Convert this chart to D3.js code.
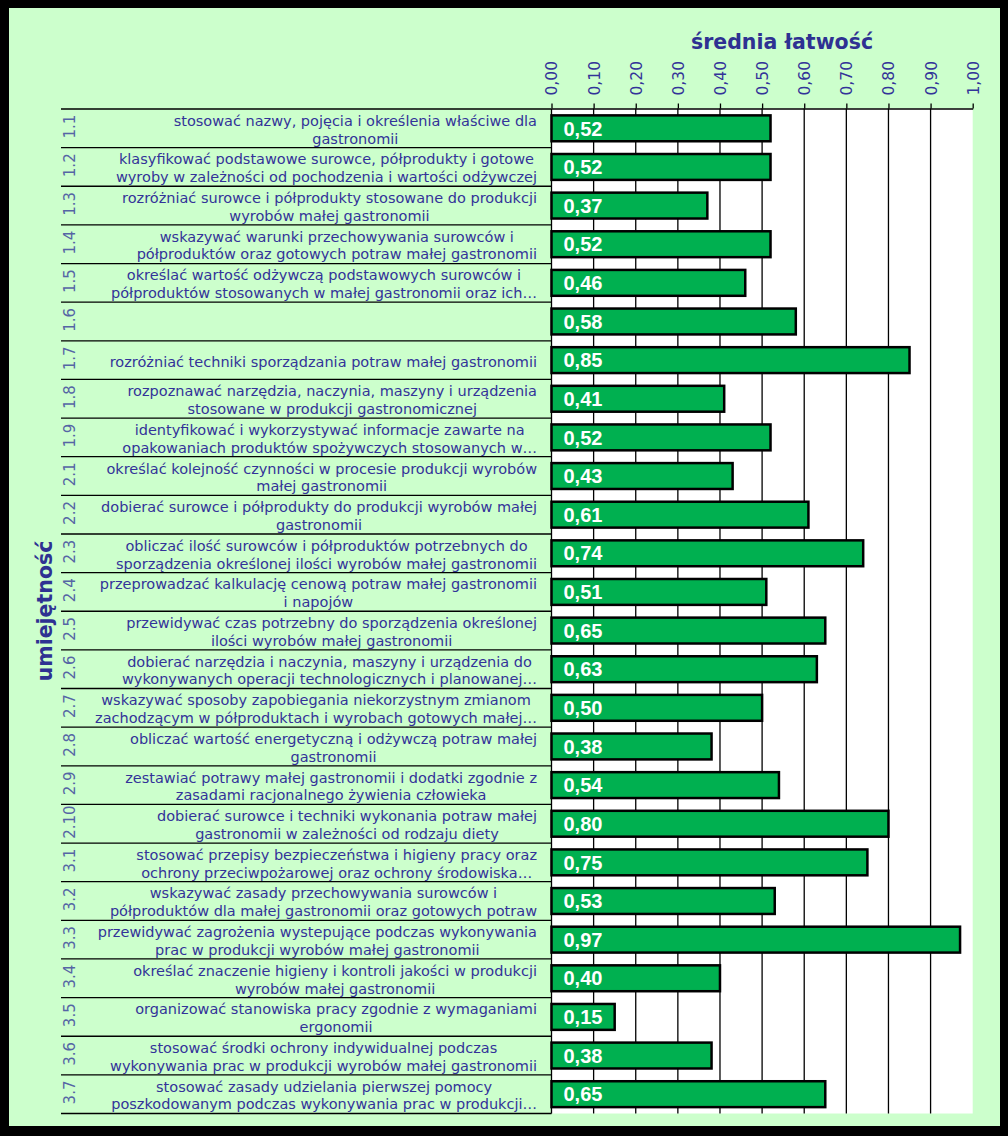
<!DOCTYPE html>
<html><head><meta charset="utf-8">
<script src="https://cdn.jsdelivr.net/npm/d3@7"></script>
<style>html,body{margin:0;padding:0;background:#000;}svg{display:block;}</style>
</head><body>
<svg id="chart" width="1008" height="1136"></svg>
<script>
const codes = ["1.1","1.2","1.3","1.4","1.5","1.6","1.7","1.8","1.9","2.1","2.2","2.3","2.4","2.5","2.6","2.7","2.8","2.9","2.10","3.1","3.2","3.3","3.4","3.5","3.6","3.7"];
const labels = [
 "stosować nazwy, pojęcia i określenia właściwe dla\ngastronomii",
 "klasyfikować podstawowe surowce, półprodukty i gotowe\nwyroby w zależności od pochodzenia i wartości odżywczej",
 "rozróżniać surowce i półprodukty stosowane do produkcji\nwyrobów małej gastronomii",
 "wskazywać warunki przechowywania surowców i\npółproduktów oraz gotowych potraw małej gastronomii",
 "określać wartość odżywczą podstawowych surowców i\npółproduktów stosowanych w małej gastronomii oraz ich…",
 "",
 "rozróżniać techniki sporządzania potraw małej gastronomii",
 "rozpoznawać narzędzia, naczynia, maszyny i urządzenia\nstosowane w produkcji gastronomicznej",
 "identyfikować i wykorzystywać informacje zawarte na\nopakowaniach produktów spożywczych stosowanych w…",
 "określać kolejność czynności w procesie produkcji wyrobów\nmałej gastronomii",
 "dobierać surowce i półprodukty do produkcji wyrobów małej\ngastronomii",
 "obliczać ilość surowców i półproduktów potrzebnych do\nsporządzenia określonej ilości wyrobów małej gastronomii",
 "przeprowadzać kalkulację cenową potraw małej gastronomii\ni napojów",
 "przewidywać czas potrzebny do sporządzenia określonej\nilości wyrobów małej gastronomii",
 "dobierać narzędzia i naczynia, maszyny i urządzenia do\nwykonywanych operacji technologicznych i planowanej…",
 "wskazywać sposoby zapobiegania niekorzystnym zmianom\nzachodzącym w półproduktach i wyrobach gotowych małej…",
 "obliczać wartość energetyczną i odżywczą potraw małej\ngastronomii",
 "zestawiać potrawy małej gastronomii i dodatki zgodnie z\nzasadami racjonalnego żywienia człowieka",
 "dobierać surowce i techniki wykonania potraw małej\ngastronomii w zależności od rodzaju diety",
 "stosować przepisy bezpieczeństwa i higieny pracy oraz\nochrony przeciwpożarowej oraz ochrony środowiska…",
 "wskazywać zasady przechowywania surowców i\npółproduktów dla małej gastronomii oraz gotowych potraw",
 "przewidywać zagrożenia wystepujące podczas wykonywania\nprac w produkcji wyrobów małej gastronomii",
 "określać znaczenie higieny i kontroli jakości w produkcji\nwyrobów małej gastronomii",
 "organizować stanowiska pracy zgodnie z wymaganiami\nergonomii",
 "stosować środki ochrony indywidualnej podczas\nwykonywania prac w produkcji wyrobów małej gastronomii",
 "stosować zasady udzielania pierwszej pomocy\nposzkodowanym podczas wykonywania prac w produkcji…"
];
const values = [0.52,0.52,0.37,0.52,0.46,0.58,0.85,0.41,0.52,0.43,0.61,0.74,0.51,0.65,0.63,0.50,0.38,0.54,0.80,0.75,0.53,0.97,0.40,0.15,0.38,0.65];
const xTicks = [0,0.1,0.2,0.3,0.4,0.5,0.6,0.7,0.8,0.9,1.0];
const xTitle = "średnia łatwość";
const yTitle = "umiejętność";

const svg = d3.select("#chart");
const textCol = "#333399";
const fmt = v => d3.format(".2f")(v).replace(".", ",");

// background
svg.append("rect").attr("x",0).attr("y",0).attr("width",1008).attr("height",1136).attr("fill","#000");
svg.append("rect").attr("x",9).attr("y",8).attr("width",991).attr("height",1118).attr("fill","#CCFFCC");

const pL = 551.5, pR = 972.7, pT = 108.5, pB = 1113.5;
const x = d3.scaleLinear().domain([0,1]).range([pL, pR]);
const y = d3.scaleBand().domain(codes).range([pT+0.5, pB]).paddingInner(0.33).paddingOuter(0.165);

// plot area
svg.append("rect").attr("x",pL).attr("y",pT).attr("width",pR-pL).attr("height",pB-pT).attr("fill","#fff");

// gridlines
svg.append("g").selectAll("line").data(xTicks.filter(t => t>0 && t<1)).join("line")
  .attr("x1",d=>x(d)).attr("x2",d=>x(d)).attr("y1",pT).attr("y2",pB)
  .attr("stroke","#000").attr("stroke-width",1.3);

// category boundary lines
const bounds = d3.range(codes.length+1).map(i => pT + 0.5 + i*(pB-pT-0.5)/codes.length);
svg.append("g").selectAll("line").data(bounds).join("line")
  .attr("x1",61).attr("x2",pL).attr("y1",d=>d).attr("y2",d=>d)
  .attr("stroke","#000").attr("stroke-width",1.3);

// y axis line
svg.append("line").attr("x1",pL).attr("x2",pL).attr("y1",pT).attr("y2",pB).attr("stroke","#000").attr("stroke-width",1.3);

// top axis
const xAxis = d3.axisTop(x).tickValues(xTicks).tickFormat(fmt).tickSize(5).tickSizeOuter(0);
const gx = svg.append("g").attr("transform",`translate(0,${pT})`).call(xAxis);
gx.select(".domain").attr("stroke","#000").attr("stroke-width",1.3);
gx.selectAll(".tick line").attr("stroke","#000").attr("stroke-width",1.3);
gx.selectAll(".tick text")
  .attr("fill",textCol).attr("font-family","DejaVu Sans, Verdana, sans-serif").attr("font-size",15.5)
  .attr("transform","rotate(-90)").attr("text-anchor","start").attr("x",13).attr("y",0).attr("dy","0.35em");

// bars
svg.append("g").selectAll("rect").data(values).join("rect")
  .attr("x",x(0)).attr("y",(d,i)=>y(codes[i]))
  .attr("width",d=>x(d)-x(0)).attr("height",y.bandwidth())
  .attr("fill","#00B050").attr("stroke","#000").attr("stroke-width",2.5);

// bar value labels
svg.append("g").selectAll("text").data(values).join("text")
  .attr("x",x(0)+12).attr("y",(d,i)=>y(codes[i])+y.bandwidth()/2).attr("dy","0.36em")
  .attr("fill","#fff").attr("font-family","Liberation Sans, Arial, sans-serif").attr("font-weight","bold").attr("font-size",20)
  .text(d=>fmt(d));

// category labels
const lblFont = "DejaVu Sans, Verdana, sans-serif";
const lblSize = 14.5;
const lineH = 17.8;
codes.forEach((c,i) => {
  const lines = labels[i] ? labels[i].split("\n") : [];
  const cy = (bounds[i]+bounds[i+1])/2 + 1.3;
  const g = svg.append("g");
  const texts = lines.map((ln,k) => g.append("text")
    .attr("y", cy + (k - (lines.length-1)/2)*lineH).attr("dy","0.35em")
    .attr("fill",textCol).attr("font-family",lblFont).attr("font-size",lblSize)
    .attr("text-anchor","middle").text(ln));
  const w = d3.max(texts, t => t.node().getComputedTextLength()) || 0;
  texts.forEach(t => t.attr("x", 537 - w/2));
  svg.append("text").attr("transform",`translate(70,${cy-3}) rotate(-90)`)
    .attr("text-anchor","middle").attr("dy","0.35em")
    .attr("fill","#5565A5").attr("font-family",lblFont).attr("font-size",15).text(c);
});

// titles
svg.append("text").attr("x",782).attr("y",49).attr("text-anchor","middle")
  .attr("fill","#2E3192").attr("font-family","DejaVu Sans, Verdana, sans-serif").attr("font-weight","bold").attr("font-size",20.5)
  .text(xTitle);
svg.append("text").attr("transform","translate(51.5,611) rotate(-90)").attr("text-anchor","middle")
  .attr("fill","#2E3192").attr("font-family","DejaVu Sans, Verdana, sans-serif").attr("font-weight","bold").attr("font-size",20.5)
  .text(yTitle);
</script>
</body></html>
